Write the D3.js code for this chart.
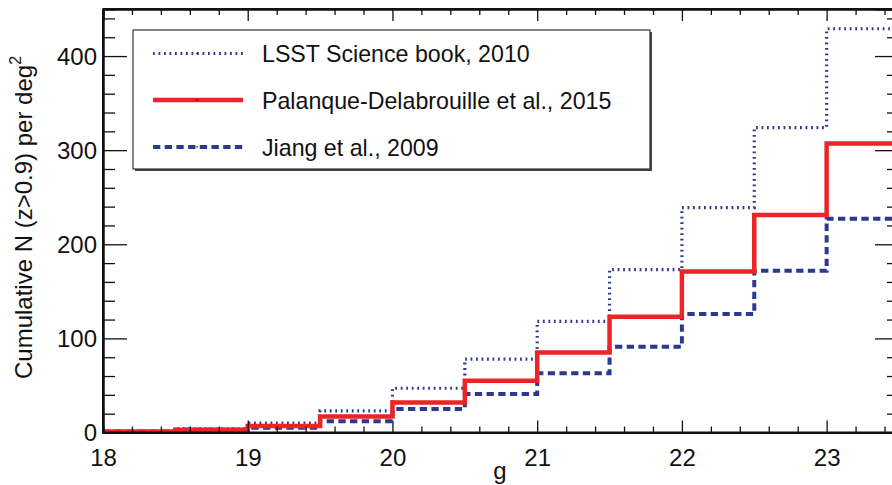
<!DOCTYPE html>
<html lang="en">
<head>
    <meta charset="UTF-8">
    <title>Cumulative N (z&gt;0.9) per deg2</title>
    <script src="https://d3js.org/d3.v7.min.js"></script>
    <style>
        html, body { margin: 0; padding: 0; background: #fff; }
        svg { display: block; font-family: "Liberation Sans", Arial, sans-serif; }
        .tick-label { font-size: 24px; fill: #111; }
    </style>
</head>
<body>
    <div id="chart"></div>
    <script>
        // bin start magnitudes (each bin is 0.5 mag wide)
        const binStarts = [18, 18.5, 19, 19.5, 20, 20.5, 21, 21.5, 22, 22.5, 23];
        const binEnd = 23.5;

        // cumulative counts
        const lsst     = [1, 4, 10, 23, 47, 78, 118, 173, 239, 324, 429];
        const palanque = [1, 3, 7, 17, 32, 55, 85, 123, 171, 231, 307];
        const jiang    = [1, 3, 5, 12, 25, 41, 63, 91, 126, 172, 227];

        const seriesNames = ["LSST Science book, 2010", "Palanque-Delabrouille et al., 2015", "Jiang et al., 2009"];

        const xMajor = [18, 19, 20, 21, 22, 23];
        const yMajor = [0, 100, 200, 300, 400];

        const W = 892, H = 485;
        const x = d3.scaleLinear().domain([18, 23.5]).range([103, 899]);
        const y = d3.scaleLinear().domain([0, 450]).range([432.5, 9]);

        const svg = d3.select("#chart").append("svg")
            .attr("width", W).attr("height", H);

        svg.append("defs").append("clipPath").attr("id", "plot-clip")
            .append("rect")
            .attr("x", x(18)).attr("y", y(450))
            .attr("width", x(23.5) - x(18)).attr("height", y(0) - y(450));

        // step lines
        const stepLine = d3.line()
            .x(d => x(d[0]))
            .y(d => y(d[1]))
            .curve(d3.curveStepAfter);

        function pts(vals) {
            const p = binStarts.map((b, i) => [b, vals[i]]);
            p.push([binEnd, vals[vals.length - 1]]);
            return p;
        }

        const styles = [
            { data: lsst, color: "#2e3a92", width: 3.2, dash: "1.8,3.7" },
            { data: palanque, color: "#ee2326", width: 4.5, dash: null },
            { data: jiang, color: "#2b3990", width: 4, dash: "7.3,4.4" }
        ];

        const lines = svg.append("g").attr("clip-path", "url(#plot-clip)");
        [0, 2, 1].forEach(i => {
            const s = styles[i];
            lines.append("path")
                .datum(pts(s.data))
                .attr("fill", "none")
                .attr("stroke", s.color)
                .attr("stroke-width", s.width)
                .attr("stroke-dasharray", s.dash)
                .attr("d", stepLine);
        });

        // axes (ticks point inward)
        const xMinor = d3.range(18, 23.5001, 0.2).filter(v => !xMajor.some(m => Math.abs(m - v) < 1e-6));
        const yMinor = d3.range(0, 450.01, 20).filter(v => v % 100 !== 0);

        const axBottom = svg.append("g").attr("transform", `translate(0,${y(0)})`)
            .call(d3.axisBottom(x).tickValues(xMajor).tickFormat(d3.format("d"))
                .tickSizeInner(-12).tickSizeOuter(0).tickPadding(16));
        axBottom.append("g").call(d3.axisBottom(x).tickValues(xMinor).tickSize(-6).tickFormat(""));

        const axTop = svg.append("g").attr("transform", `translate(0,${y(450)})`)
            .call(d3.axisTop(x).tickValues(xMajor).tickSize(-12).tickFormat(""));
        axTop.append("g").call(d3.axisTop(x).tickValues(xMinor).tickSize(-6).tickFormat(""));

        const axLeft = svg.append("g").attr("transform", `translate(${x(18)},0)`)
            .call(d3.axisLeft(y).tickValues(yMajor).tickSizeInner(-24).tickSizeOuter(0).tickPadding(6));
        axLeft.append("g").call(d3.axisLeft(y).tickValues(yMinor).tickSize(-12).tickFormat(""));

        const axRight = svg.append("g").attr("transform", `translate(${x(23.5)},0)`)
            .call(d3.axisRight(y).tickValues(yMajor).tickSize(-24).tickFormat(""));
        axRight.append("g").call(d3.axisRight(y).tickValues(yMinor).tickSize(-12).tickFormat(""));

        svg.selectAll(".domain").attr("stroke", "#111").attr("stroke-width", 2);
        svg.selectAll(".tick line").attr("stroke", "#111").attr("stroke-width", 1.3);
        svg.selectAll(".tick text").attr("class", "tick-label")
            .style("font-size", "24px").style("font-family", "'Liberation Sans', Arial, sans-serif");
        axLeft.selectAll(".tick text").attr("x", -6).attr("dy", "0.35em");
        // axis lines closing the frame
        svg.append("line").attr("x1", x(18)).attr("x2", x(23.5)).attr("y1", y(0)).attr("y2", y(0))
            .attr("stroke", "#111").attr("stroke-width", 2);
        svg.append("line").attr("x1", x(18)).attr("x2", x(23.5)).attr("y1", y(450)).attr("y2", y(450))
            .attr("stroke", "#111").attr("stroke-width", 2);
        svg.append("line").attr("x1", x(18)).attr("x2", x(18)).attr("y1", y(0)).attr("y2", y(450))
            .attr("stroke", "#111").attr("stroke-width", 2);

        // axis titles
        svg.append("text")
            .attr("x", 500).attr("y", 479)
            .attr("text-anchor", "middle")
            .style("font-size", "24px").attr("fill", "#111")
            .text("g");

        const yTitle = svg.append("text")
            .attr("transform", "translate(32,379) rotate(-90)")
            .attr("text-anchor", "start")
            .style("font-size", "24px").attr("fill", "#111");
        yTitle.append("tspan").text("Cumulative N (z>0.9) per deg");
        yTitle.append("tspan").attr("dy", -11).style("font-size", "16px").text("2");

        // legend
        const lg = svg.append("g");
        lg.append("path")
            .attr("d", "M651,32 L651,170 L135,170")
            .attr("fill", "none").attr("stroke", "#444").attr("stroke-width", 2);
        lg.append("rect")
            .attr("x", 133).attr("y", 30).attr("width", 517).attr("height", 139)
            .attr("fill", "#fff").attr("stroke", "#333").attr("stroke-width", 1.2);

        const rowY = [53.5, 100, 147];
        seriesNames.forEach((name, i) => {
            const s = styles[i];
            lg.append("line")
                .attr("x1", 153).attr("x2", 243)
                .attr("y1", rowY[i]).attr("y2", rowY[i])
                .attr("stroke", s.color).attr("stroke-width", s.width)
                .attr("stroke-dasharray", s.dash);
            lg.append("circle")
                .attr("cx", 197).attr("cy", rowY[i]).attr("r", 0.8).attr("fill", "#111");
            lg.append("text")
                .attr("x", 262).attr("y", rowY[i] + 8.5)
                .style("font-size", "23.2px").attr("fill", "#111")
                .text(name);
        });
    </script>
</body>
</html>
